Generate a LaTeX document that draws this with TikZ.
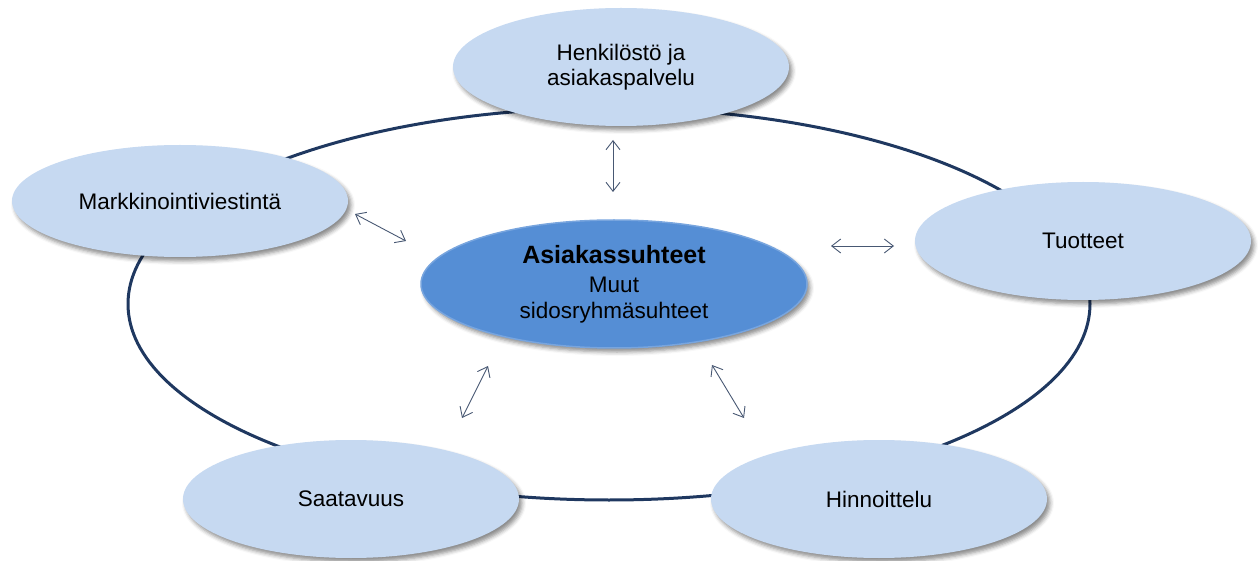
\documentclass[tikz,border=0pt]{standalone}
\usepackage{fontspec}
\setmainfont{Liberation Sans}
\usetikzlibrary{shapes.geometric,shadows.blur,arrows.meta}

\definecolor{ringnavy}{RGB}{31,56,96}
\definecolor{lightblue}{RGB}{198,217,241}
\definecolor{midblue}{RGB}{85,142,213}
\definecolor{midborder}{RGB}{120,165,222}
\definecolor{arrowgray}{RGB}{72,88,115}

\tikzset{
  x=1pt, y=-1pt,
  outer/.style={ellipse, fill=lightblue, inner sep=0pt,
    minimum width=336pt, minimum height=118pt, align=center,
    font=\fontsize{22.5}{25}\selectfont,
    blur shadow={shadow xshift=3pt, shadow yshift=-4pt,
      shadow blur radius=4pt, shadow opacity=45}},
  hub/.style={ellipse, fill=midblue, draw=midborder, line width=1.5pt,
    inner sep=0pt, minimum width=386pt, minimum height=128pt, align=center,
    font=\fontsize{22.5}{26}\selectfont,
    blur shadow={shadow xshift=3pt, shadow yshift=-4pt,
      shadow blur radius=4pt, shadow opacity=45}},
  link/.style={draw=arrowgray, line width=0.9pt,
    {Straight Barb[length=9pt,width=14pt]}-{Straight Barb[length=9pt,width=14pt]}},
  ring/.style={draw=ringnavy, line width=3pt}
}

\begin{document}
\begin{tikzpicture}
  \useasboundingbox (0,0) rectangle (1259,561);

  % connecting ring behind the outer ellipses
  \draw[ring] (609,304) ellipse [x radius=481, y radius=196];

  % outer ellipses
  \node[outer] (staff) at (621,67) {Henkilöstö ja\\asiakaspalvelu};
  \node[outer, minimum height=112pt] (mark) at (180,201) {Markkinointiviestintä};
  \node[outer] (prod) at (1083,241) {Tuotteet};
  \node[outer] (avail) at (351,499) {Saatavuus};
  \node[outer] (price) at (879,499) {Hinnoittelu};

  % central ellipse
  \node[hub] (core) at (614,284)
    {{\fontsize{25}{26}\selectfont\bfseries Asiakassuhteet}\\[3pt]Muut\\sidosryhmäsuhteet};

  % two-way links between the centre and the outer ellipses
  \coordinate (a1) at (613,140);  \coordinate (a2) at (613,192);
  \coordinate (b1) at (355,214);  \coordinate (b2) at (406,241);
  \coordinate (c1) at (831,246);  \coordinate (c2) at (894,246);
  \coordinate (d1) at (488,366);  \coordinate (d2) at (462,418);
  \coordinate (e1) at (712,365);  \coordinate (e2) at (744,418);
  \draw[link] (a1) -- (a2);
  \draw[link] (b1) -- (b2);
  \draw[link] (c1) -- (c2);
  \draw[link] (d1) -- (d2);
  \draw[link] (e1) -- (e2);
\end{tikzpicture}
\end{document}
